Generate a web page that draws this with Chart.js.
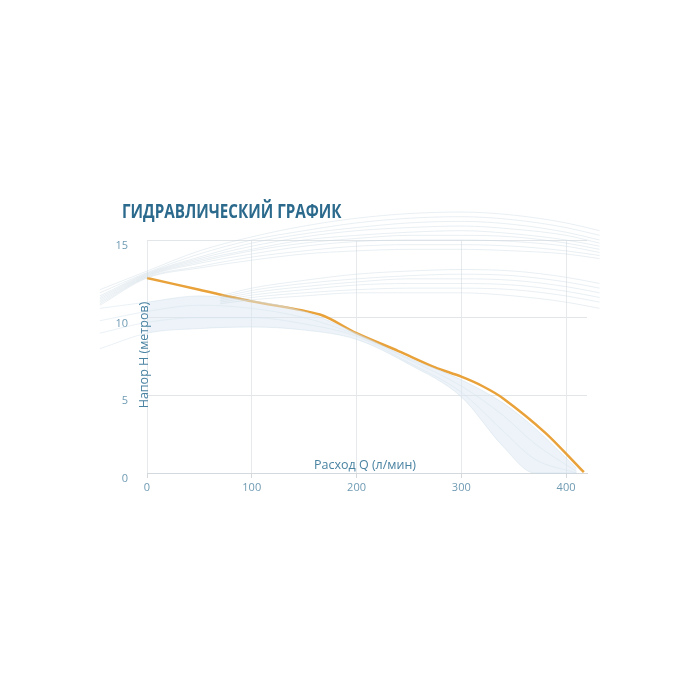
<!DOCTYPE html>
<html><head><meta charset="utf-8">
<script src="https://cdn.jsdelivr.net/npm/chart.js@4"></script>
<style>
html,body{margin:0;padding:0;background:#fff;}
#wrap{position:relative;width:700px;height:700px;}
#title{position:absolute;left:122px;top:198px;font-family:"Open Sans",sans-serif;font-weight:700;font-size:19px;color:#2b6a8c;white-space:nowrap;transform-origin:0 0;transform:scaleX(0.8);}
canvas{position:absolute;left:0;top:0;}
</style></head>
<body>
<div id="wrap"><canvas id="c" width="700" height="700"></canvas><div id="title">ГИДРАВЛИЧЕСКИЙ ГРАФИК</div></div>
<script>
// ---- data ----
const titleText = "ГИДРАВЛИЧЕСКИЙ ГРАФИК";
const xTitle = "Расход Q (л/мин)";
const yTitle = "Напор Н (метров)";
const xTicks = [0, 100, 200, 300, 400];
const yTicks = [0, 5, 10, 15];

// main pump curve
const flowQ = [0, 50, 100, 165, 200, 240, 275, 300, 320, 340, 380, 417];
const headH = [12.55, 11.8, 11.05, 10.2, 9.0, 7.85, 6.8, 6.2, 5.6, 4.8, 2.6, 0.05];

// decorative background curves (upper fan)
const fanX = [-45, 0, 50, 100, 150, 200, 250, 300, 350, 400, 432];
const fanU1 = [11.8, 13.0, 14.3, 15.2, 15.9, 16.4, 16.7, 16.8, 16.6, 16.1, 15.6];
const fanU2 = [11.6, 12.9, 14.1, 15.0, 15.6, 16.1, 16.4, 16.5, 16.3, 15.8, 15.3];
const fanU3 = [11.4, 12.85, 13.9, 14.8, 15.4, 15.8, 16.1, 16.2, 16.0, 15.5, 15.0];
const fanU4 = [11.3, 12.8, 13.8, 14.6, 15.2, 15.6, 15.8, 15.9, 15.7, 15.3, 14.8];
const fanU5 = [11.2, 12.75, 13.7, 14.4, 15.0, 15.3, 15.5, 15.6, 15.4, 15.0, 14.6];
const fanU6 = [11.1, 12.7, 13.6, 14.3, 14.8, 15.1, 15.3, 15.3, 15.2, 14.8, 14.4];
const fanU7 = [11.0, 12.65, 13.5, 14.1, 14.6, 14.9, 15.0, 15.0, 14.9, 14.6, 14.2];
const fanU8 = [10.9, 12.6, 13.3, 13.9, 14.3, 14.6, 14.7, 14.7, 14.6, 14.3, 14.0];
const fanU9 = [10.8, 12.55, 13.2, 13.7, 14.1, 14.3, 14.4, 14.4, 14.3, 14.1, 13.8];

// decorative middle fan
const midX = [70, 100, 150, 200, 250, 300, 350, 400, 432];
const midM1 = [11.4, 11.9, 12.4, 12.8, 13.0, 13.1, 13.0, 12.6, 12.2];
const midM2 = [11.3, 11.75, 12.2, 12.5, 12.7, 12.8, 12.7, 12.3, 11.9];
const midM3 = [11.2, 11.6, 12.0, 12.3, 12.5, 12.5, 12.4, 12.0, 11.6];
const midM4 = [11.1, 11.45, 11.8, 12.1, 12.2, 12.2, 12.1, 11.7, 11.3];
const midM5 = [11.0, 11.3, 11.6, 11.8, 11.9, 11.9, 11.8, 11.4, 11.0];
const midM6 = [10.9, 11.15, 11.4, 11.6, 11.6, 11.6, 11.4, 11.0, 10.6];

// decorative lower band
const bandX = [-45, 0, 50, 100, 150, 200, 250, 300, 340, 370, 410];
const bandTop = [10.6, 11.0, 11.4, 11.1, 10.4, 9.0, 7.4, 6.0, 4.5, 2.9, 0.3];
const bandMid1 = [9.8, 10.4, 10.8, 10.6, 10.0, 8.9, 7.3, 5.6, 3.7, 1.9, 0.1];
const bandMid2 = [9.0, 9.7, 10.0, 10.0, 9.6, 8.8, 7.1, 5.2, 2.7, 0.9, 0];
const bandBot = [8.0, 9.0, 9.3, 9.4, 9.2, 8.6, 7.0, 4.9, 1.7, 0, 0];

// ---- build ----
const pts = (xs, ys) => xs.map((x, i) => ({x, y: ys[i]}));
const deco = (xs, ys, color, extra) => Object.assign({
  data: pts(xs, ys), borderColor: color, borderWidth: 1, pointRadius: 0,
  cubicInterpolationMode: 'monotone', clip: false, fill: false
}, extra || {});

const fanColor = 'rgba(196,212,224,0.38)';
const midColor = 'rgba(196,212,224,0.38)';
const bandLine = 'rgba(196,214,228,0.35)';

const datasets = [
  deco(fanX, fanU1, fanColor), deco(fanX, fanU2, fanColor), deco(fanX, fanU3, fanColor),
  deco(fanX, fanU4, fanColor), deco(fanX, fanU5, fanColor), deco(fanX, fanU6, fanColor),
  deco(fanX, fanU7, fanColor), deco(fanX, fanU8, fanColor), deco(fanX, fanU9, fanColor),
  deco(midX, midM1, midColor), deco(midX, midM2, midColor), deco(midX, midM3, midColor),
  deco(midX, midM4, midColor), deco(midX, midM5, midColor), deco(midX, midM6, midColor),
  deco(bandX, bandTop, bandLine),
  deco(bandX, bandBot, bandLine, {fill: '-1', backgroundColor: 'rgba(220,232,242,0.5)'}),
  deco(bandX, bandMid1, bandLine), deco(bandX, bandMid2, bandLine),
  {data: pts(flowQ, headH), borderColor: '#e9a23a', borderWidth: 2.5, pointRadius: 0,
   tension: 0.3, fill: false, clip: false}
];

const axisTitles = {
  id: 'axisTitles',
  afterDraw(chart) {
    const ctx = chart.ctx;
    ctx.save();
    ctx.fillStyle = '#4a83a2';
    ctx.font = '12.5px "Open Sans", sans-serif';
    ctx.textAlign = 'center'; ctx.textBaseline = 'alphabetic';
    ctx.fillText(xTitle, 365, 469);
    ctx.translate(144, 355);
    ctx.rotate(-Math.PI / 2);
    ctx.textBaseline = 'middle';
    ctx.fillText(yTitle, 0, 0);
    ctx.restore();
  }
};

new Chart(document.getElementById('c'), {
  type: 'line',
  data: {datasets},
  options: {
    responsive: false, animation: false,
    layout: {padding: {left: 100, right: 113, top: 240, bottom: 197}},
    plugins: {legend: {display: false}, tooltip: {enabled: false}, title: {display: false}},
    scales: {
      x: {
        type: 'linear', min: 0, max: 420,
        afterBuildTicks: s => { s.ticks = xTicks.map(v => ({value: v})); },
        afterFit: s => { s.height = 30; },
        border: {display: true, color: '#d3d9dd', width: 1},
        grid: {color: '#e6eaed', borderDash: [2, 2], tickLength: 5, tickColor: '#d3d9dd',
               tickBorderDash: [], drawTicks: true},
        ticks: {color: '#6f9bb3', font: {family: '"Open Sans", sans-serif', size: 11}, padding: 3, maxRotation: 0}
      },
      y: {
        type: 'linear', min: 0, max: 15,
        afterBuildTicks: s => { s.ticks = yTicks.map(v => ({value: v})); },
        afterFit: s => { s.width = 47; },
        border: {display: false},
        grid: {color: c => c.tick.value === 0 ? 'rgba(0,0,0,0)' : '#e2e6e9', borderDash: [2, 2], drawTicks: false},
        ticks: {color: '#6f9bb3', font: {family: '"Open Sans", sans-serif', size: 11}, padding: 19, labelOffset: 6}
      }
    }
  },
  plugins: [axisTitles]
});
</script>
</body></html>
